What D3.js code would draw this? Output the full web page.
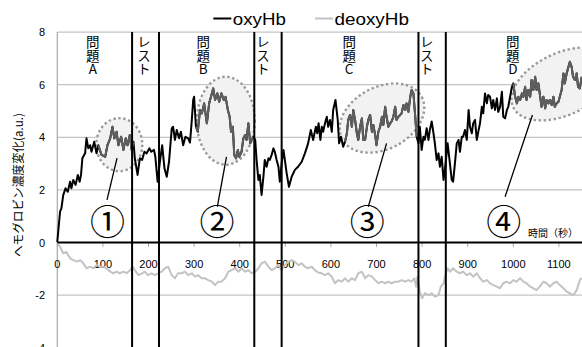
<!DOCTYPE html>
<html><head><meta charset="utf-8">
<script src="https://cdn.jsdelivr.net/npm/d3@7/dist/d3.min.js"></script>
<style>html,body{margin:0;padding:0;background:#fff;}svg{display:block;}
.vert{writing-mode:vertical-rl;text-orientation:upright;}</style>
</head><body>
<svg id="chart" width="582" height="347"></svg>
<script>
// ---- data ----
const oxyT = [0,6,9,13,18,23,28,31,35,40,45,49,52,55,61,64,68,72,75,81,86,90,97,105,110,116,121,125,130,134,140,145,150,154,159,163,167,170,176,181,186,191,196,202,206,212,215,220,225,230,235,240,245,251,254,258,262,267,271,276,281,287,291,295,298,300,304,308,313,317,322,328,333,337,342,346,351,355,360,365,369,374,378,381,385,388,392,396,399,404,408,412,415,419,423,426,430,434,437,441,444,448,452,455,459,463,466,470,474,477,481,485,488,492,496,499,503,508,514,521,528,536,543,550,556,561,567,570,573,577,580,583,587,591,594,598,602,605,610,615,618,622,627,631,635,638,642,646,649,653,657,660,664,668,671,675,679,682,686,690,693,697,700,704,708,712,715,719,722,726,730,733,737,741,744,748,752,755,759,763,766,770,774,777,781,785,788,792,795,799,803,806,810,814,817,821,825,828,832,836,839,843,847,850,856,861,865,868,872,876,880,883,887,890,894,898,902,905,909,912,916,920,924,927,931,934,938,942,945,949,953,956,960,964,967,971,975,978,982,986,989,993,997,1000,1004,1008,1011,1015,1019,1022,1026,1029,1033,1037,1040,1044,1048,1051,1055,1059,1062,1066,1070,1073,1077,1080,1084,1088,1091,1095,1099,1102,1106,1110,1113,1117,1121,1124,1128,1131,1135,1139,1142,1146,1150];
const oxyV = [0.02,1.17,1.3,1.8,2.06,1.93,2.31,2.06,2.38,2.19,2.57,2.31,2.57,3.2,3.39,3.96,3.58,3.7,3.45,3.83,3.39,3.7,3.33,3.26,3.7,3.96,4.4,3.96,4.21,3.7,4.02,3.52,3.96,3.7,4.09,3.52,3.83,3.2,2.57,3.2,3.14,3.45,3.39,3.58,3.45,3.52,3.26,2.31,3.07,3.7,2.82,2.5,3.07,4.34,4.4,3.9,4.28,3.96,4.21,3.7,4.02,3.96,3.8,4.66,5.42,5.54,4.4,4.21,5.04,4.91,5.29,4.53,5.29,5.54,5.86,5.42,5.67,5.35,5.67,5.42,5.54,5.04,4.78,4.21,4.4,3.33,3.2,3.52,3.26,3.45,3.96,4.09,3.9,4.53,3.77,3.9,4.02,3.9,3.14,2.38,2.57,1.81,2.5,3.14,2.88,3.2,3.14,3.33,3.58,3.45,3.14,2.88,2.31,3.01,3.52,3.14,2.63,2.12,2.5,2.76,2.88,3.07,3.39,3.77,4.28,3.9,4.4,4.15,4.53,3.9,4.4,4.21,4.53,4.78,4.4,4.66,4.21,5.04,5.42,4.66,3.77,4.02,3.64,3.83,4.15,4.66,4.85,4.4,5.04,4.66,4.15,3.9,4.4,4.72,3.9,3.9,4.4,4.66,4.85,4.21,4.47,4.09,3.7,4.21,4.4,4.78,4.47,5.16,4.78,4.4,4.53,4.6,4.78,5.16,4.66,4.78,4.85,4.91,5.23,5.04,5.29,4.97,5.54,5.8,5.67,4.78,4.02,3.77,4.4,3.52,4.02,3.9,4.34,3.9,4.28,4.6,4.15,3.77,3.14,3.39,2.88,3.26,2.38,2.76,3.77,3.01,2.38,2.31,3.01,3.77,3.9,3.45,4.02,4.02,4.28,3.9,5.04,4.4,4.15,4.53,4.66,3.9,4.28,4.53,5.16,4.91,5.67,5.29,5.61,5.54,5.1,5.42,5.04,5.48,4.97,5.16,5.73,4.78,4.72,5.04,5.16,5.54,5.92,6.05,5.54,5.29,5.54,5.42,5.67,5.54,5.92,5.42,5.8,5.54,6.18,5.8,6.3,5.8,6.05,5.54,5.16,5.54,5.1,5.42,5.29,5.42,5.23,5.54,5.16,5.29,5.35,5.54,5.8,6.43,6.05,6.43,6.68,6.87,6.68,6.3,6.18,6.43,5.92,5.86,6.3];
const deoxyT = [0,6,13,20,28,35,43,50,57,64,72,79,86,94,101,108,116,123,130,137,145,152,160,165,170,178,186,192,199,207,214,221,229,236,243,251,258,265,273,280,287,295,302,309,316,324,331,339,346,353,360,368,375,382,390,397,404,412,419,426,434,441,448,455,463,470,477,485,492,499,507,514,521,529,536,543,550,558,565,572,580,587,594,602,609,616,624,631,638,646,653,660,668,675,682,690,697,704,711,719,726,733,741,748,755,763,770,777,783,787,790,795,800,806,814,821,828,836,841,847,852,856,861,868,876,883,890,898,905,912,920,927,934,942,949,956,964,971,978,985,993,1000,1007,1015,1022,1029,1037,1044,1051,1058,1066,1073,1080,1088,1095,1102,1110,1117,1124,1132,1139,1146,1150];
const deoxyV = [-0.03,-0.16,-0.41,-0.36,-0.6,-0.67,-0.73,-0.67,-0.79,-0.98,-0.92,-0.98,-0.86,-0.92,-0.92,-0.98,-1.11,-1.17,-1.11,-1.17,-1.11,-1.17,-1.05,-0.92,-1.05,-1.24,-1.17,-1.11,-1.24,-1.17,-1.24,-1.17,-1.11,-0.98,-0.92,-1.24,-1.36,-1.17,-1.17,-1.11,-1.24,-1.17,-1.3,-1.24,-1.36,-1.36,-1.43,-1.49,-1.62,-1.49,-1.49,-1.36,-1.11,-1.05,-0.98,-1.11,-0.98,-1.11,-1.05,-1.17,-1.11,-0.98,-0.79,-0.73,-0.92,-1.05,-0.98,-0.86,-1.05,-0.86,-0.73,-0.67,-0.73,-0.86,-0.79,-0.92,-0.98,-0.92,-1.05,-1.14,-1.17,-1.24,-1.17,-1.3,-1.55,-1.43,-1.49,-1.36,-1.49,-1.36,-1.43,-1.17,-1.11,-1.36,-1.24,-1.3,-1.43,-1.55,-1.49,-1.55,-1.49,-1.55,-1.49,-1.49,-1.43,-1.49,-1.43,-1.49,-1.36,-1.68,-1.3,-1.87,-2.12,-1.93,-2.0,-1.93,-2.06,-2.0,-1.68,-1.55,-1.17,-0.98,-1.11,-0.98,-1.11,-1.17,-1.11,-1.24,-1.17,-1.3,-1.17,-1.36,-1.49,-1.43,-1.55,-1.62,-1.68,-1.74,-1.55,-1.49,-1.55,-1.43,-1.49,-1.36,-1.49,-1.55,-1.68,-1.74,-1.81,-1.68,-1.49,-1.55,-1.68,-1.55,-1.49,-1.62,-1.74,-1.87,-1.93,-2.0,-1.81,-1.43,-1.35];
const seriesNames = ["oxyHb", "deoxyHb"];
const xTicks = [0,100,200,300,400,500,600,700,800,900,1000,1100];
const yTicks = [8,6,4,2,0,-2,-4];
const phaseLines = [164,223,432,492,792,852];
const phaseLabels = ["問題A","レスト","問題B","レスト","問題C","レスト","問題D"];
const phaseLabelT = [78,190,320,451,640,810,999];
const highlightRanges = [[88,167],[303,432],[629,790],[999,1150]];
const circledLabels = ["①","②","③","④"];
const circledT = [110,350,680,979];
const pointerFrom = [[109,1.62],[351,1.36],[682,1.36],[982,1.74]];
const pointerTo = [[131,3.21],[371,3.26],[722,3.77],[1042,4.85]];
const ellipseCenter = [[136,3.72],[369.5,4.63],[712,4.73],[1109,6.03]];
const yTitle = "ヘモグロビン濃度変化(a.u.)";
const xTitle = "時間（秒）";

// ---- drawing ----
const svg = d3.select("#chart");
const x = d3.scaleLinear().domain([0,1150]).range([57.3,581.7]);
const y = d3.scaleLinear().domain([-4,8]).range([347.7,32.1]);
const latin = "'Liberation Sans', Arial, sans-serif";
const cjk = "'Noto Sans CJK JP', 'Liberation Sans', sans-serif";

const oxy = oxyT.map((t,i)=>({t, v: oxyV[i]}));
const deoxy = deoxyT.map((t,i)=>({t, v: deoxyV[i]}));

// gridlines
svg.append("g").selectAll("line").data(yTicks.filter(d=>d!==0)).join("line")
  .attr("x1", x(0)).attr("x2", 582).attr("y1", d=>y(d)).attr("y2", d=>y(d))
  .attr("stroke","#c4c4c4").attr("stroke-width",1.3);
// left axis line
svg.append("line").attr("x1",x(0)).attr("x2",x(0)).attr("y1",y(8)).attr("y2",347)
  .attr("stroke","#a8a8a8").attr("stroke-width",1.2);

// ellipses
const ellR = [[23,26.5,0],[29,44,0],[45,31,-28],[55,31,-25]];
svg.append("g").selectAll("ellipse").data(ellipseCenter).join("ellipse")
  .attr("transform",(d,i)=>`translate(${x(d[0])},${y(d[1])}) rotate(${ellR[i][2]})`)
  .attr("rx",(d,i)=>ellR[i][0]).attr("ry",(d,i)=>ellR[i][1])
  .attr("fill","#f2f2f2").attr("stroke","#9a9a9a").attr("stroke-width",2.4)
  .attr("stroke-dasharray","2.4 2.6");

// y tick labels
svg.append("g").selectAll("text").data(yTicks).join("text")
  .attr("x",45).attr("y",d=>y(d)+4).attr("text-anchor","end")
  .attr("font-family",latin).attr("font-size",11).attr("fill","#000").text(d=>d);

// x ticks
svg.append("g").selectAll("line").data(xTicks).join("line")
  .attr("x1",d=>x(d)).attr("x2",d=>x(d)).attr("y1",y(0)).attr("y2",y(0)+4.5)
  .attr("stroke","#a8a8a8").attr("stroke-width",1);
svg.append("g").selectAll("text").data(xTicks).join("text")
  .attr("x",d=>x(d)).attr("y",267.5).attr("text-anchor","middle")
  .attr("font-family",latin).attr("font-size",11).attr("fill","#000").text(d=>d);

const line = d3.line().x(d=>x(d.t)).y(d=>y(d.v));
// deoxy
svg.append("path").datum(deoxy).attr("d",line).attr("fill","none")
  .attr("stroke","#c3c3c3").attr("stroke-width",2).attr("stroke-linejoin","round");
// oxy
svg.append("path").datum(oxy).attr("d",line).attr("fill","none")
  .attr("stroke","#000").attr("stroke-width",2).attr("stroke-linejoin","round");
// highlighted portions
svg.append("g").selectAll("path").data(highlightRanges).join("path")
  .attr("d",r=>line(oxy.filter(p=>p.t>=r[0] && p.t<=r[1])))
  .attr("fill","none").attr("stroke","#5e5e5e").attr("stroke-width",2).attr("stroke-linejoin","round");

// zero axis
svg.append("line").attr("x1",x(0)).attr("x2",582).attr("y1",y(0)).attr("y2",y(0))
  .attr("stroke","#000").attr("stroke-width",2);
// phase lines
svg.append("g").selectAll("line").data(phaseLines).join("line")
  .attr("x1",d=>x(d)).attr("x2",d=>x(d)).attr("y1",y(8)).attr("y2",347)
  .attr("stroke","#000").attr("stroke-width",2);

// phase labels (vertical writing)
svg.append("g").selectAll("text").data(phaseLabels).join("text")
  .attr("class","vert")
  .attr("x",(d,i)=>x(phaseLabelT[i])).attr("y",35.5)
  .attr("font-family",cjk).attr("font-size",13.5).attr("fill","#000")
  .text(d=>d);

// pointer lines
svg.append("g").selectAll("line").data(pointerFrom).join("line")
  .attr("x1",d=>x(d[0])).attr("y1",d=>y(d[1]))
  .attr("x2",(d,i)=>x(pointerTo[i][0])).attr("y2",(d,i)=>y(pointerTo[i][1]))
  .attr("stroke","#000").attr("stroke-width",1.3);

// circled numbers
svg.append("g").selectAll("text").data(circledLabels).join("text")
  .attr("x",(d,i)=>x(circledT[i])).attr("y",222.5).attr("dy","0.36em")
  .attr("text-anchor","middle").attr("font-family",cjk).attr("font-size",35)
  .attr("fill","#000").text(d=>d);

// x title
svg.append("text").attr("x",528).attr("y",236.5).attr("font-family",cjk)
  .attr("font-size",10).attr("fill","#000").text(xTitle);

// y title
svg.append("text").attr("transform","translate(23,185) rotate(-90)")
  .attr("text-anchor","middle").attr("font-family",cjk).attr("font-size",12)
  .attr("textLength",144).attr("lengthAdjust","spacingAndGlyphs")
  .attr("fill","#000").text(yTitle);

// legend
const legX = [213.3, 315];
const legColors = ["#000","#c3c3c3"];
const legW = [53, 74.4];
seriesNames.forEach((n,i)=>{
  svg.append("line").attr("x1",legX[i]).attr("x2",legX[i]+18).attr("y1",18.5).attr("y2",18.5)
    .attr("stroke",legColors[i]).attr("stroke-width",2);
  svg.append("text").attr("x",legX[i]+19.5).attr("y",25).attr("font-family",latin)
    .attr("font-size",16).attr("textLength",legW[i]).attr("lengthAdjust","spacingAndGlyphs")
    .attr("fill","#000").text(n);
});
</script>
</body></html>
